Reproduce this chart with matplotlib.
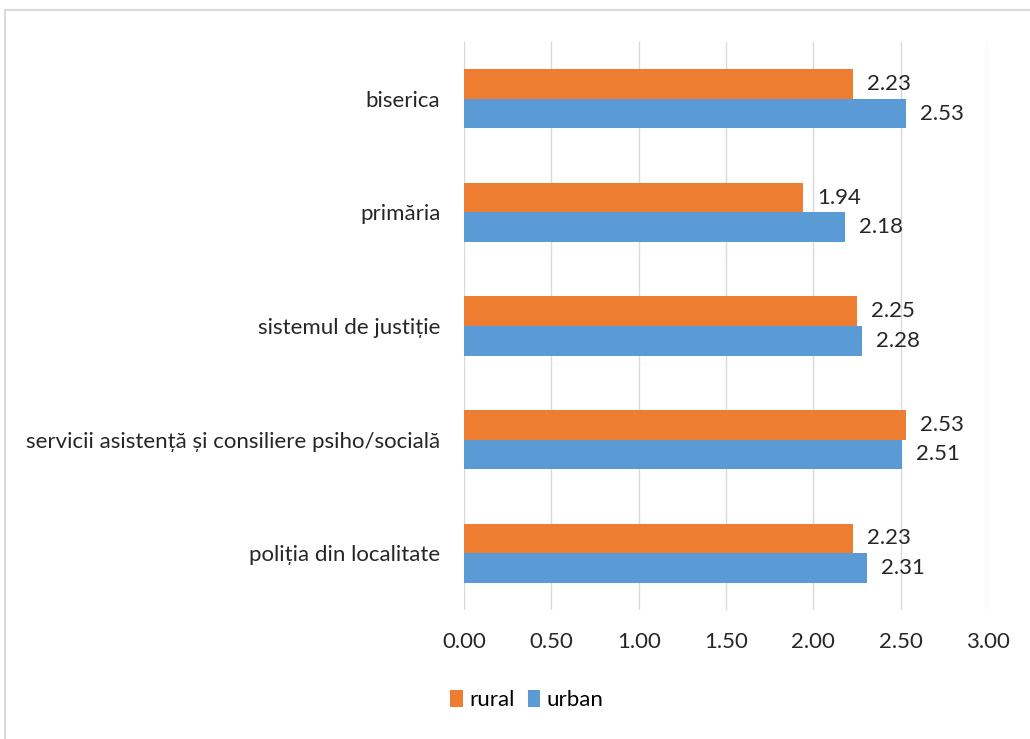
import numpy as np
import matplotlib.pyplot as plt
from matplotlib.patches import Rectangle

categories = ['biserica', 'primăria', 'sistemul de justiție',
              'servicii asistență și consiliere psiho/socială',
              'poliția din localitate']
rural = [2.23, 1.94, 2.25, 2.53, 2.23]
urban = [2.53, 2.18, 2.28, 2.51, 2.31]
xticks = [0, 0.5, 1.0, 1.5, 2.0, 2.5, 3.0]

plt.rcParams['font.family'] = ['Lato', 'DejaVu Sans']
fs = 16

fig = plt.figure(figsize=(10.30, 7.39), dpi=100)
ax = fig.add_axes([0.4505, 0.1746, 0.5087, 0.7686])

# outer chart border
fig.patches.append(Rectangle((5 / 1030, -0.01), 1.02, 1 - 10 / 739 + 0.01,
                             transform=fig.transFigure, fill=False,
                             edgecolor='#d9d9d9', linewidth=1.5))

y = np.arange(len(categories))[::-1]
h = 0.26
orange = '#ED7D31'
blue = '#5B9BD5'

ax.barh(y + h / 2, rural, height=h, color=orange, label='rural', zorder=3)
ax.barh(y - h / 2, urban, height=h, color=blue, label='urban', zorder=3)

for yi, v in zip(y, rural):
    ax.text(v + 0.08, yi + h / 2, f'{v:.2f}', va='center', ha='left',
            fontsize=fs, color='#262626')
for yi, v in zip(y, urban):
    ax.text(v + 0.08, yi - h / 2, f'{v:.2f}', va='center', ha='left',
            fontsize=fs, color='#262626')

ax.set_xlim(0, 3.0)
ax.set_ylim(-0.5, len(categories) - 0.5)
ax.set_xticks(xticks)
ax.set_xticklabels([f'{t:.2f}' for t in xticks], fontsize=fs, color='#262626')
ax.set_yticks(y)
ax.set_yticklabels(categories, fontsize=fs, color='#262626')
ax.tick_params(axis='both', length=0)
ax.tick_params(axis='x', pad=16)
ax.tick_params(axis='y', pad=17)
ax.grid(axis='x', color='#d9d9d9', linewidth=1, zorder=0)
for s in ax.spines.values():
    s.set_visible(False)

fig.legend(loc='center', bbox_to_anchor=(527 / 1030, 1 - 700 / 739), ncol=2,
           frameon=False, fontsize=fs, handlelength=0.55, handleheight=0.8,
           handletextpad=0.3, columnspacing=0.6)

fig.savefig('out.png', dpi=100)
